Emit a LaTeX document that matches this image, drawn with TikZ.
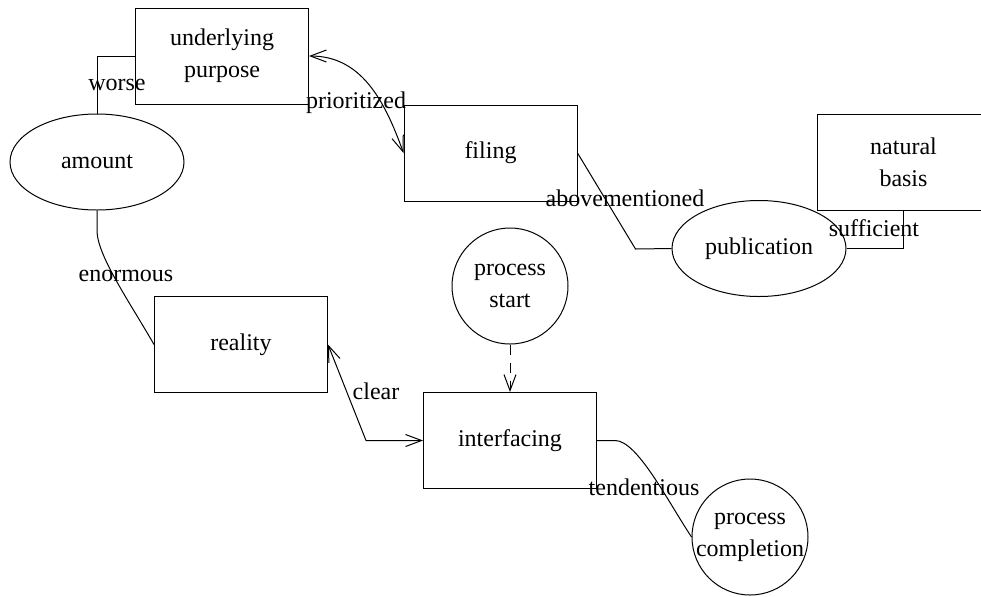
\documentclass[tikz,border=0pt]{standalone}
\usepackage{fontspec}
\setmainfont{Liberation Serif}
\usepackage{tikz}
\usetikzlibrary{arrows.meta,shapes.geometric}

\tikzset{
	block/.style={draw, rectangle, minimum width=86.5pt, minimum height=48pt, align=center, inner sep=0pt},
	blob/.style={draw, ellipse, minimum width=87pt, minimum height=48pt, align=center, inner sep=0pt},
	terminal/.style={draw, circle, minimum size=58pt, align=center, inner sep=-3pt},
	lbl/.style={inner sep=0pt},
}

\begin{document}
\begin{tikzpicture}[x=0.5pt,y=-0.5pt,line width=0.5pt,
	>={Straight Barb[length=8pt,width=6pt]},
	font=\fontsize{12}{16}\selectfont]
	
	\useasboundingbox (0,0) rectangle (981,596);
	
	\node[block] (purpose) at (222,56) {underlying\\purpose};
	\node[blob] (amount) at (97,162) {amount};
	\node[block] (filing) at (490.5,153) {filing};
	\node[block] (natural) at (903.5,162) {natural\\basis};
	\node[blob] (publication) at (759,248.5) {publication};
	\node[terminal] (start) at (510,286) {process\\start};
	\node[block] (interfacing) at (510,440.5) {interfacing};
	\node[block] (reality) at (241,344.5) {reality};
	\node[terminal] (completion) at (750,537) {process\\completion};
	
	\draw (purpose.west) -| (amount.north);
	\node[lbl] (worse) at (117,85) {worse};
	
	\draw[<->] (purpose.east) .. controls +(52,0) and +(-19,-53) .. (filing.west);
	\node[lbl] (prioritized) at (356,103) {prioritized};
	
	\draw (filing.east) -- ++(58,96) -- (publication.west);
	\node[lbl] (abovementioned) at (625,198.5) {abovementioned};
	
	\draw (publication.east) -| (natural.south);
	\node[lbl] (sufficient) at (874,228.5) {sufficient};
	
	\draw (amount.south) -- ++(0,20) .. controls +(0,25) and +(-24,-42) .. (reality.west);
	\node[lbl] (enormous) at (126,276) {enormous};
	
	\draw[<->] (reality.east) -- ++(38,96) -- (interfacing.west);
	\node[lbl] (clear) at (376,391) {clear};
	
	\draw[->,dash pattern=on 5pt off 4pt] (start.south) -- (interfacing.north);
	
	\draw (interfacing.east) -- ++(18,0) .. controls +(22,0) and +(-25,-38) .. (completion.west);
	\node[lbl] (tendentious) at (644,487) {tendentious};
	
\end{tikzpicture}
\end{document}
